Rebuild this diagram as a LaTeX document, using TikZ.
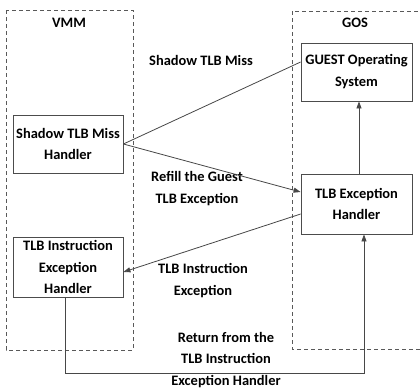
\documentclass[tikz,border=0pt]{standalone}
\usepackage{fontspec}
\setmainfont{Carlito}
\usetikzlibrary{arrows.meta}
\tikzset{
  txt/.style={font=\fontsize{14.5}{22}\selectfont\bfseries, align=center},
  handler/.style={txt, draw=black!70, line width=0.8bp, inner sep=1bp},
  zone/.style={draw=black!65, line width=0.7bp, dashed, dash pattern=on 4bp off 3bp},
  link/.style={draw=black!72, line width=0.8bp},
  flow/.style={link, -{Triangle[length=7bp,width=5bp]}},
}
\begin{document}
\begin{tikzpicture}[x=1bp,y=-1bp]
	\useasboundingbox (0,0) rectangle (420,391);
	% zones
	\draw[zone] (6,10) rectangle (133,350);
	\draw[zone] (292,11) rectangle (430,349);
	\node[txt] (vmm) at (69,23) {VMM};
	\node[txt] (gos) at (355,23) {GOS};
	% handlers
	\node[handler, minimum width=110bp, minimum height=58bp] (shadow) at (68,144) {Shadow TLB Miss\\Handler};
	\node[handler, minimum width=111bp, minimum height=58bp] (guest) at (356.5,72) {GUEST Operating\\System};
	\node[handler, minimum width=111bp, minimum height=60bp] (tlbex) at (356.5,204) {TLB Exception\\Handler};
	\node[handler, minimum width=110bp, minimum height=60bp] (tlbinst) at (68,267) {TLB Instruction\\Exception\\Handler};
	% labels
	\node[txt] (missl) at (201,60) {Shadow TLB Miss};
	\node[txt] (refill) at (197,189) {Refill the Guest\\TLB Exception};
	\node[txt] (instl) at (203,281) {TLB Instruction\\Exception};
	\node[txt] (retl) at (226,360) {Return from the\\TLB Instruction\\Exception Handler};
	\coordinate (low) at (0,373);
	% connectors
	\draw[link] (shadow.east) -- ([yshift=10bp]guest.west);
	\draw[flow] (shadow.east) -- ([yshift=12bp]tlbex.west);
	\draw[flow] ([xshift=2.5bp]tlbex.north) -- ([xshift=2.5bp]guest.south);
	\draw[flow] ([yshift=-10bp]tlbex.west) -- ([yshift=-5bp]tlbinst.east);
	\draw[flow] ([xshift=-3bp]tlbinst.south) -- ([xshift=-3bp]tlbinst.south |- low) -| ([xshift=7.5bp]tlbex.south);
\end{tikzpicture}
\end{document}
